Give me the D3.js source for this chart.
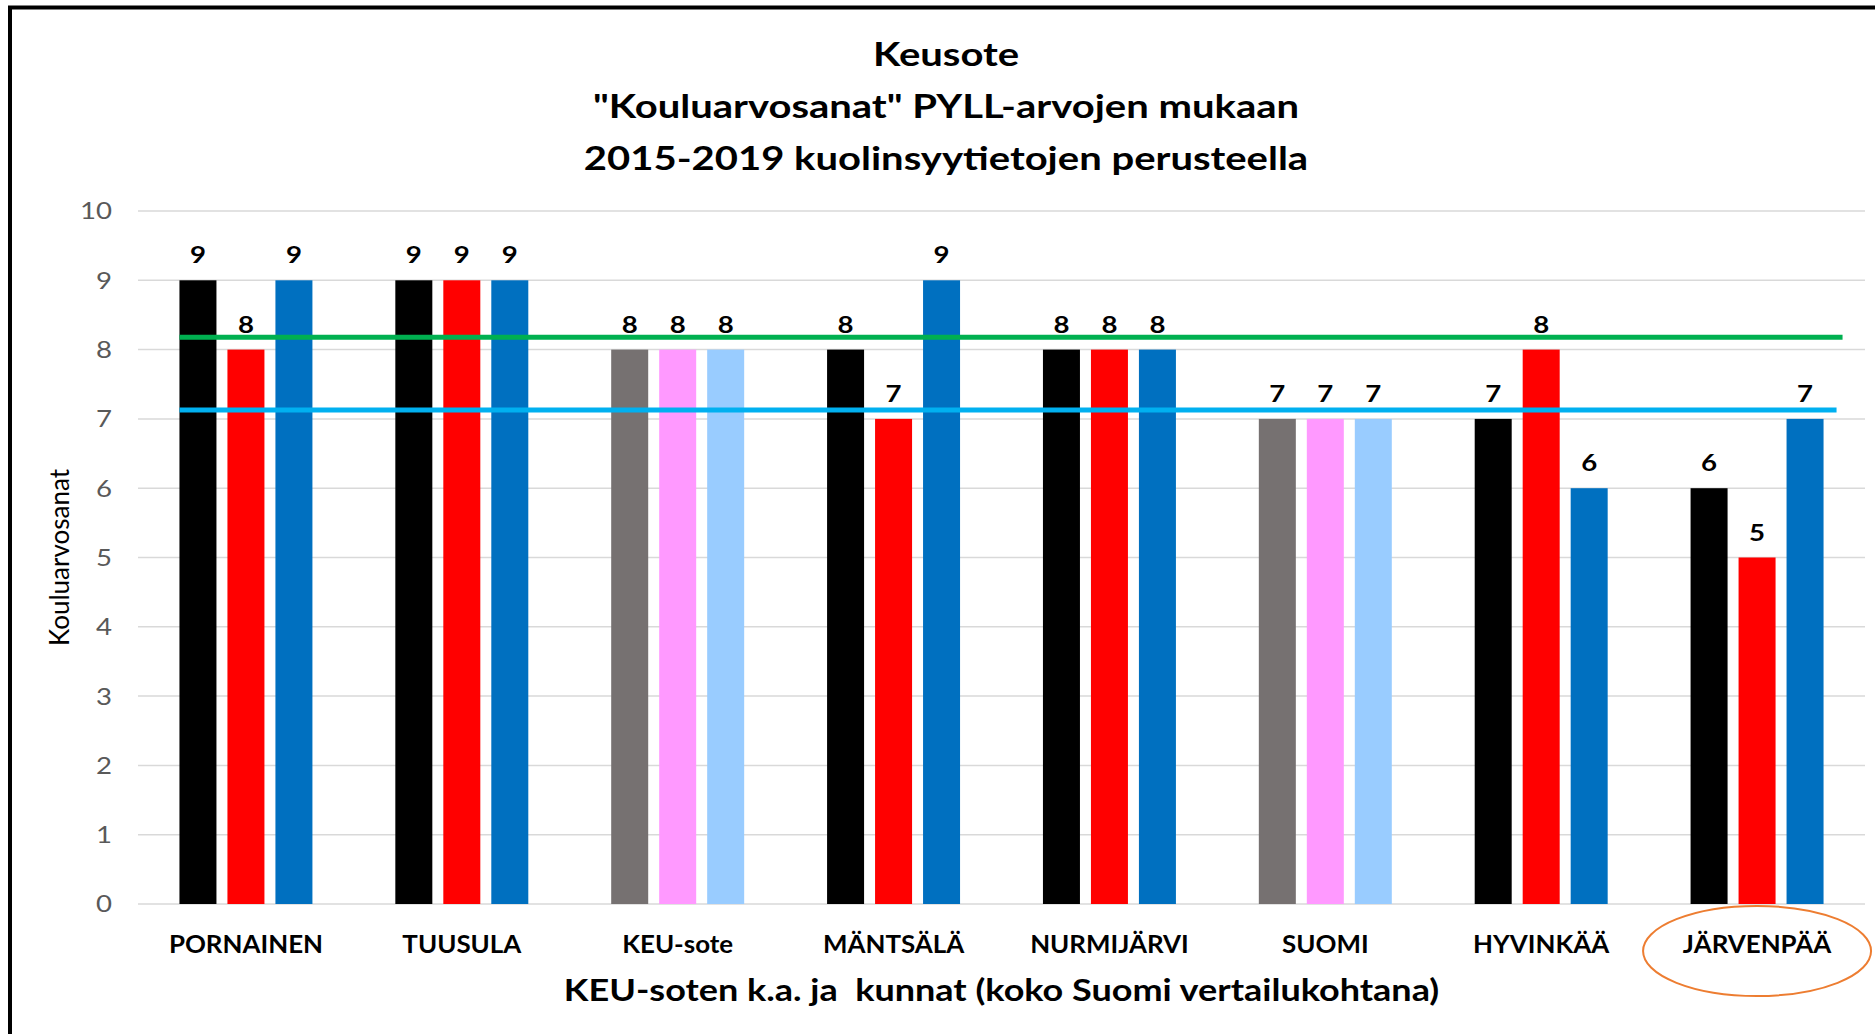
<!DOCTYPE html>
<html>
<head>
<meta charset="utf-8">
<script src="https://cdn.jsdelivr.net/npm/d3@7"></script>
<style>
  body { margin: 0; background: #fff; }
  text { font-family: Lato, Carlito, Calibri, sans-serif; }
</style>
</head>
<body>
<script>
// chart data
var categories = ["PORNAINEN", "TUUSULA", "KEU-sote", "MÄNTSÄLÄ", "NURMIJÄRVI", "SUOMI", "HYVINKÄÄ", "JÄRVENPÄÄ"];
var series1 = [9, 9, 8, 8, 8, 7, 7, 6];
var series2 = [8, 9, 8, 7, 8, 7, 8, 5];
var series3 = [9, 9, 8, 9, 8, 7, 6, 7];
var yTicks = [0, 1, 2, 3, 4, 5, 6, 7, 8, 9, 10];
var refValues = [8.18, 7.13];
var titleLines = ["Keusote", "\"Kouluarvosanat\" PYLL-arvojen mukaan", "2015-2019 kuolinsyytietojen perusteella"];
var aggregates = ["KEU-sote", "SUOMI"];
var highlighted = "JÄRVENPÄÄ";

// the source picture is a bit stretched sideways, so text gets a horizontal scale
function place(x, y, sx) {
  return "translate(" + x + "," + y + ") scale(" + sx + ",1)";
}

function main() {
  var width = 1875, height = 1034;
  var svg = d3.select("body").append("svg")
    .attr("width", width)
    .attr("height", height);

  // frame (only left and top edge visible)
  svg.append("rect")
    .attr("x", 10).attr("y", 7.5)
    .attr("width", width + 20).attr("height", height + 20)
    .attr("fill", "none")
    .attr("stroke", "#000")
    .attr("stroke-width", 4);

  var x0 = d3.scaleBand()
    .domain(categories)
    .range([138, 1865])
    .paddingInner(0.384)
    .paddingOuter(0.192);

  var x1 = d3.scaleBand()
    .domain([0, 1, 2])
    .range([0, x0.bandwidth()])
    .paddingInner(0.229);

  var y = d3.scaleLinear()
    .domain([0, 10])
    .range([904, 211]);

  // gridlines
  svg.append("g").selectAll("line")
    .data(yTicks)
    .join("line")
    .attr("x1", x0.range()[0])
    .attr("x2", x0.range()[1])
    .attr("y1", function(d) { return y(d); })
    .attr("y2", function(d) { return y(d); })
    .attr("stroke", "#D9D9D9")
    .attr("stroke-width", 1.5);

  // y tick labels
  svg.append("g").selectAll("text")
    .data(yTicks)
    .join("text")
    .attr("transform", function(d) { return place(112, y(d), 1.15); })
    .attr("dy", "0.35em")
    .attr("text-anchor", "end")
    .attr("fill", "#595959")
    .attr("font-size", 24)
    .text(function(d) { return d; });

  // y axis title
  svg.append("text")
    .attr("transform", "translate(60," + ((y(0) + y(10)) / 2) + ") rotate(-90)")
    .attr("dy", "0.35em")
    .attr("text-anchor", "middle")
    .attr("font-size", 26)
    .attr("fill", "#000")
    .text("Kouluarvosanat");

  var normalColors = ["#000000", "#FF0000", "#0070C0"];
  var aggColors = ["#767171", "#FF99FF", "#99CCFF"];
  var allSeries = [series1, series2, series3];

  var rows = [];
  categories.forEach(function(c, i) {
    allSeries.forEach(function(s, j) {
      rows.push({ cat: c, idx: j, value: s[i] });
    });
  });

  function colorOf(d) {
    return aggregates.indexOf(d.cat) >= 0 ? aggColors[d.idx] : normalColors[d.idx];
  }

  // bars
  svg.append("g").selectAll("rect")
    .data(rows)
    .join("rect")
    .attr("x", function(d) { return x0(d.cat) + x1(d.idx); })
    .attr("y", function(d) { return y(d.value); })
    .attr("width", x1.bandwidth())
    .attr("height", function(d) { return y(0) - y(d.value); })
    .attr("fill", colorOf);

  // value labels
  svg.append("g").selectAll("text")
    .data(rows)
    .join("text")
    .attr("transform", function(d) {
      return place(x0(d.cat) + x1(d.idx) + x1.bandwidth() / 2, y(d.value) - 17, 1.2);
    })
    .attr("text-anchor", "middle")
    .attr("font-size", 23)
    .attr("font-weight", "bold")
    .attr("fill", "#000")
    .text(function(d) { return d.value; });

  // reference lines
  var refColors = ["#00B050", "#00B0F0"];
  var refExtra = [19, 13];
  svg.append("g").selectAll("line")
    .data(refValues)
    .join("line")
    .attr("x1", x0(categories[0]))
    .attr("x2", function(d, i) { return x0(categories[categories.length - 1]) + x0.bandwidth() + refExtra[i]; })
    .attr("y1", function(d) { return y(d); })
    .attr("y2", function(d) { return y(d); })
    .attr("stroke", function(d, i) { return refColors[i]; })
    .attr("stroke-width", 5);

  // category labels
  svg.append("g").selectAll("text")
    .data(categories)
    .join("text")
    .attr("transform", function(d) { return place(x0(d) + x0.bandwidth() / 2, 953, 1.08); })
    .attr("text-anchor", "middle")
    .attr("font-size", 24)
    .attr("font-weight", "bold")
    .attr("fill", "#000")
    .text(function(d) { return d; });

  // highlight ellipse
  svg.append("ellipse")
    .attr("cx", x0(highlighted) + x0.bandwidth() / 2)
    .attr("cy", 951)
    .attr("rx", 114)
    .attr("ry", 45)
    .attr("fill", "none")
    .attr("stroke", "#ED7D31")
    .attr("stroke-width", 2);

  // x axis title
  svg.append("text")
    .attr("transform", place((x0.range()[0] + x0.range()[1]) / 2, 1001, 1.2))
    .attr("text-anchor", "middle")
    .attr("font-size", 30)
    .attr("font-weight", "bold")
    .attr("fill", "#000")
    .attr("xml:space", "preserve")
    .text("KEU-soten k.a. ja  kunnat (koko Suomi vertailukohtana)");

  // title
  svg.append("g").selectAll("text")
    .data(titleLines)
    .join("text")
    .attr("transform", function(d, i) { return place(946, 66 + i * 52, 1.25); })
    .attr("text-anchor", "middle")
    .attr("font-size", 32)
    .attr("font-weight", "bold")
    .attr("fill", "#000")
    .text(function(d) { return d; });
}

main();
</script>
</body>
</html>
